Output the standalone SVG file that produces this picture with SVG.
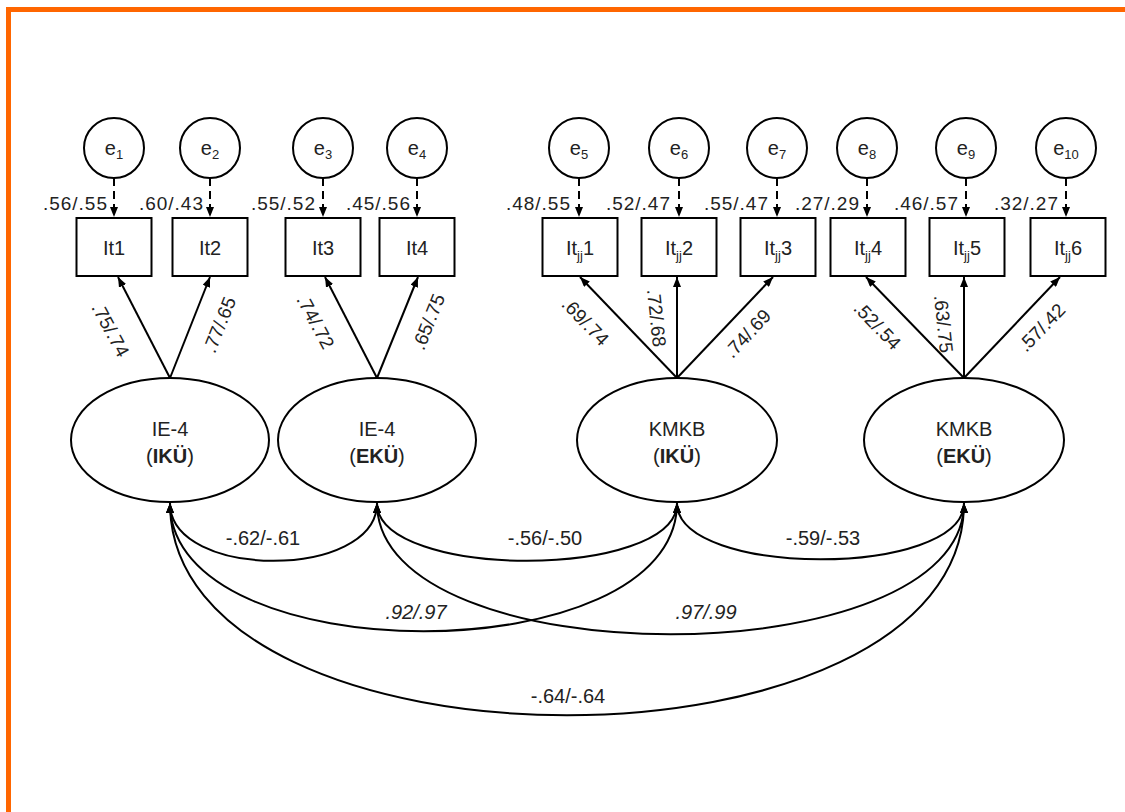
<svg xmlns="http://www.w3.org/2000/svg" width="1125" height="812" viewBox="0 0 1125 812">
<style>
.t{font-family:"Liberation Sans",Arial,sans-serif;fill:#222}
.lab{font-size:19px;letter-spacing:1px}
.cov{font-size:20px}
.it{font-size:20px}
.sub{font-size:13px}
.shape{fill:#fff;stroke:#000;stroke-width:2}
.ln{fill:none;stroke:#000;stroke-width:2}
.dash{fill:none;stroke:#000;stroke-width:2;stroke-dasharray:8 5}
</style>
<defs>
<marker id="ah" viewBox="0 0 10 8" refX="10" refY="4" markerWidth="10" markerHeight="8" markerUnits="userSpaceOnUse" orient="auto-start-reverse">
<path d="M0,0 L10,4 L0,8 z" fill="#000"/>
</marker>
</defs>
<rect width="1125" height="812" fill="#fff"/>
<path d="M8.5,812 V9.5 H1125" fill="none" stroke="#ff6600" stroke-width="5"/>

<g id="connectors">
<!-- error paths -->
<g class="dash" marker-end="url(#ah)">
<line x1="114" y1="178" x2="114" y2="217"/>
<line x1="210" y1="178" x2="210" y2="217"/>
<line x1="323" y1="178" x2="323" y2="217"/>
<line x1="417" y1="178" x2="417" y2="217"/>
<line x1="579" y1="178" x2="579" y2="217"/>
<line x1="679" y1="178" x2="679" y2="217"/>
<line x1="777" y1="178" x2="777" y2="217"/>
<line x1="867" y1="178" x2="867" y2="217"/>
<line x1="966" y1="178" x2="966" y2="217"/>
<line x1="1066" y1="178" x2="1066" y2="217"/>
</g>
<!-- loadings -->
<g class="ln" marker-end="url(#ah)">
<line x1="170" y1="378" x2="118" y2="277"/>
<line x1="170" y1="378" x2="210" y2="277"/>
<line x1="377" y1="378" x2="325" y2="277"/>
<line x1="377" y1="378" x2="418" y2="277"/>
<line x1="677" y1="378" x2="580" y2="277"/>
<line x1="677" y1="378" x2="677" y2="277"/>
<line x1="677" y1="378" x2="773" y2="277"/>
<line x1="964" y1="378" x2="866" y2="277"/>
<line x1="964" y1="378" x2="964" y2="277"/>
<line x1="964" y1="378" x2="1060" y2="277"/>
</g>
<!-- covariances -->
<g class="ln" marker-start="url(#ah)" marker-end="url(#ah)">
<path d="M170,503 C170,580 377,580 377,503"/>
<path d="M377,503 C377,580 677,580 677,503"/>
<path d="M677,503 C677,578 964,578 964,503"/>
<path d="M170,503 C170,674 677,674 677,503"/>
<path d="M377,503 C377,678 964,678 964,503"/>
<path d="M170,503 C170,786 964,786 964,503"/>
</g>
</g>

<g class="t lab" text-anchor="end">
<text x="108" y="210">.56/.55</text>
<text x="204" y="210">.60/.43</text>
<text x="316" y="210">.55/.52</text>
<text x="411" y="210">.45/.56</text>
<text x="571" y="210">.48/.55</text>
<text x="671" y="210">.52/.47</text>
<text x="769" y="210">.55/.47</text>
<text x="860" y="210">.27/.29</text>
<text x="959" y="210">.46/.57</text>
<text x="1059" y="210">.32/.27</text>
</g>

<g class="t lab" text-anchor="middle" style="letter-spacing:0">
<text transform="translate(110,330) rotate(62)" dy="6">.75/.74</text>
<text transform="translate(220,325) rotate(-68)" dy="6">.77/.65</text>
<text transform="translate(315,322) rotate(62)" dy="6">.74/.72</text>
<text transform="translate(429,322) rotate(-68)" dy="6">.65/.75</text>
<text transform="translate(585,322) rotate(46)" dy="6">.69/.74</text>
<text transform="translate(656,318) rotate(84)" dy="6">.72/.68</text>
<text transform="translate(748,334) rotate(-47)" dy="6">.74/.69</text>
<text transform="translate(877,326) rotate(46)" dy="6">.52/.54</text>
<text transform="translate(943,324) rotate(84)" dy="6">.63/.75</text>
<text transform="translate(1042,328) rotate(-46)" dy="6">.57/.42</text>
</g>

<g class="t cov" text-anchor="middle">
<text x="263" y="545">-.62/-.61</text>
<text x="545" y="545">-.56/-.50</text>
<text x="823" y="545">-.59/-.53</text>
<text x="416" y="619" font-style="italic">.92/.97</text>
<text x="706" y="619" font-style="italic">.97/.99</text>
<text x="568" y="703">-.64/-.64</text>
</g>

<g id="e1"><circle class="shape" cx="114" cy="148" r="30"/><text class="t it" x="114" y="155" text-anchor="middle">e<tspan class="sub" dy="4">1</tspan></text></g>
<g id="e2"><circle class="shape" cx="210" cy="148" r="30"/><text class="t it" x="210" y="155" text-anchor="middle">e<tspan class="sub" dy="4">2</tspan></text></g>
<g id="e3"><circle class="shape" cx="323" cy="148" r="30"/><text class="t it" x="323" y="155" text-anchor="middle">e<tspan class="sub" dy="4">3</tspan></text></g>
<g id="e4"><circle class="shape" cx="417" cy="148" r="30"/><text class="t it" x="417" y="155" text-anchor="middle">e<tspan class="sub" dy="4">4</tspan></text></g>
<g id="e5"><circle class="shape" cx="579" cy="148" r="30"/><text class="t it" x="579" y="155" text-anchor="middle">e<tspan class="sub" dy="4">5</tspan></text></g>
<g id="e6"><circle class="shape" cx="679" cy="148" r="30"/><text class="t it" x="679" y="155" text-anchor="middle">e<tspan class="sub" dy="4">6</tspan></text></g>
<g id="e7"><circle class="shape" cx="777" cy="148" r="30"/><text class="t it" x="777" y="155" text-anchor="middle">e<tspan class="sub" dy="4">7</tspan></text></g>
<g id="e8"><circle class="shape" cx="867" cy="148" r="30"/><text class="t it" x="867" y="155" text-anchor="middle">e<tspan class="sub" dy="4">8</tspan></text></g>
<g id="e9"><circle class="shape" cx="966" cy="148" r="30"/><text class="t it" x="966" y="155" text-anchor="middle">e<tspan class="sub" dy="4">9</tspan></text></g>
<g id="e10"><circle class="shape" cx="1066" cy="148" r="30"/><text class="t it" x="1066" y="155" text-anchor="middle">e<tspan class="sub" dy="4">10</tspan></text></g>

<g id="It1"><rect class="shape" x="76.5" y="218" width="75" height="58"/><text class="t it" x="114" y="255" text-anchor="middle">It1</text></g>
<g id="It2"><rect class="shape" x="172.5" y="218" width="75" height="58"/><text class="t it" x="210" y="255" text-anchor="middle">It2</text></g>
<g id="It3"><rect class="shape" x="285.5" y="218" width="75" height="58"/><text class="t it" x="323" y="255" text-anchor="middle">It3</text></g>
<g id="It4"><rect class="shape" x="379.5" y="218" width="75" height="58"/><text class="t it" x="417" y="255" text-anchor="middle">It4</text></g>
<g id="Itjj1"><rect class="shape" x="542.5" y="218" width="75" height="58"/><text class="t it" x="580" y="255" text-anchor="middle">It<tspan class="sub" dy="5">jj</tspan><tspan dy="-5">1</tspan></text></g>
<g id="Itjj2"><rect class="shape" x="641.5" y="218" width="75" height="58"/><text class="t it" x="679" y="255" text-anchor="middle">It<tspan class="sub" dy="5">jj</tspan><tspan dy="-5">2</tspan></text></g>
<g id="Itjj3"><rect class="shape" x="740.5" y="218" width="75" height="58"/><text class="t it" x="778" y="255" text-anchor="middle">It<tspan class="sub" dy="5">jj</tspan><tspan dy="-5">3</tspan></text></g>
<g id="Itjj4"><rect class="shape" x="830.5" y="218" width="75" height="58"/><text class="t it" x="868" y="255" text-anchor="middle">It<tspan class="sub" dy="5">jj</tspan><tspan dy="-5">4</tspan></text></g>
<g id="Itjj5"><rect class="shape" x="929.5" y="218" width="75" height="58"/><text class="t it" x="967" y="255" text-anchor="middle">It<tspan class="sub" dy="5">jj</tspan><tspan dy="-5">5</tspan></text></g>
<g id="Itjj6"><rect class="shape" x="1030.5" y="218" width="75" height="58"/><text class="t it" x="1068" y="255" text-anchor="middle">It<tspan class="sub" dy="5">jj</tspan><tspan dy="-5">6</tspan></text></g>

<g id="IE4_IKU"><ellipse class="shape" cx="170" cy="440" rx="99" ry="62"/><text class="t it" x="170" y="436" text-anchor="middle">IE-4</text><text class="t it" x="170" y="463" text-anchor="middle">(<tspan font-weight="bold">IKÜ</tspan>)</text></g>
<g id="IE4_EKU"><ellipse class="shape" cx="377" cy="440" rx="99" ry="62"/><text class="t it" x="377" y="436" text-anchor="middle">IE-4</text><text class="t it" x="377" y="463" text-anchor="middle">(<tspan font-weight="bold">EKÜ</tspan>)</text></g>
<g id="KMKB_IKU"><ellipse class="shape" cx="677" cy="440" rx="100" ry="62"/><text class="t it" x="677" y="436" text-anchor="middle">KMKB</text><text class="t it" x="677" y="463" text-anchor="middle">(<tspan font-weight="bold">IKÜ</tspan>)</text></g>
<g id="KMKB_EKU"><ellipse class="shape" cx="964" cy="440" rx="100" ry="62"/><text class="t it" x="964" y="436" text-anchor="middle">KMKB</text><text class="t it" x="964" y="463" text-anchor="middle">(<tspan font-weight="bold">EKÜ</tspan>)</text></g>
</svg>
